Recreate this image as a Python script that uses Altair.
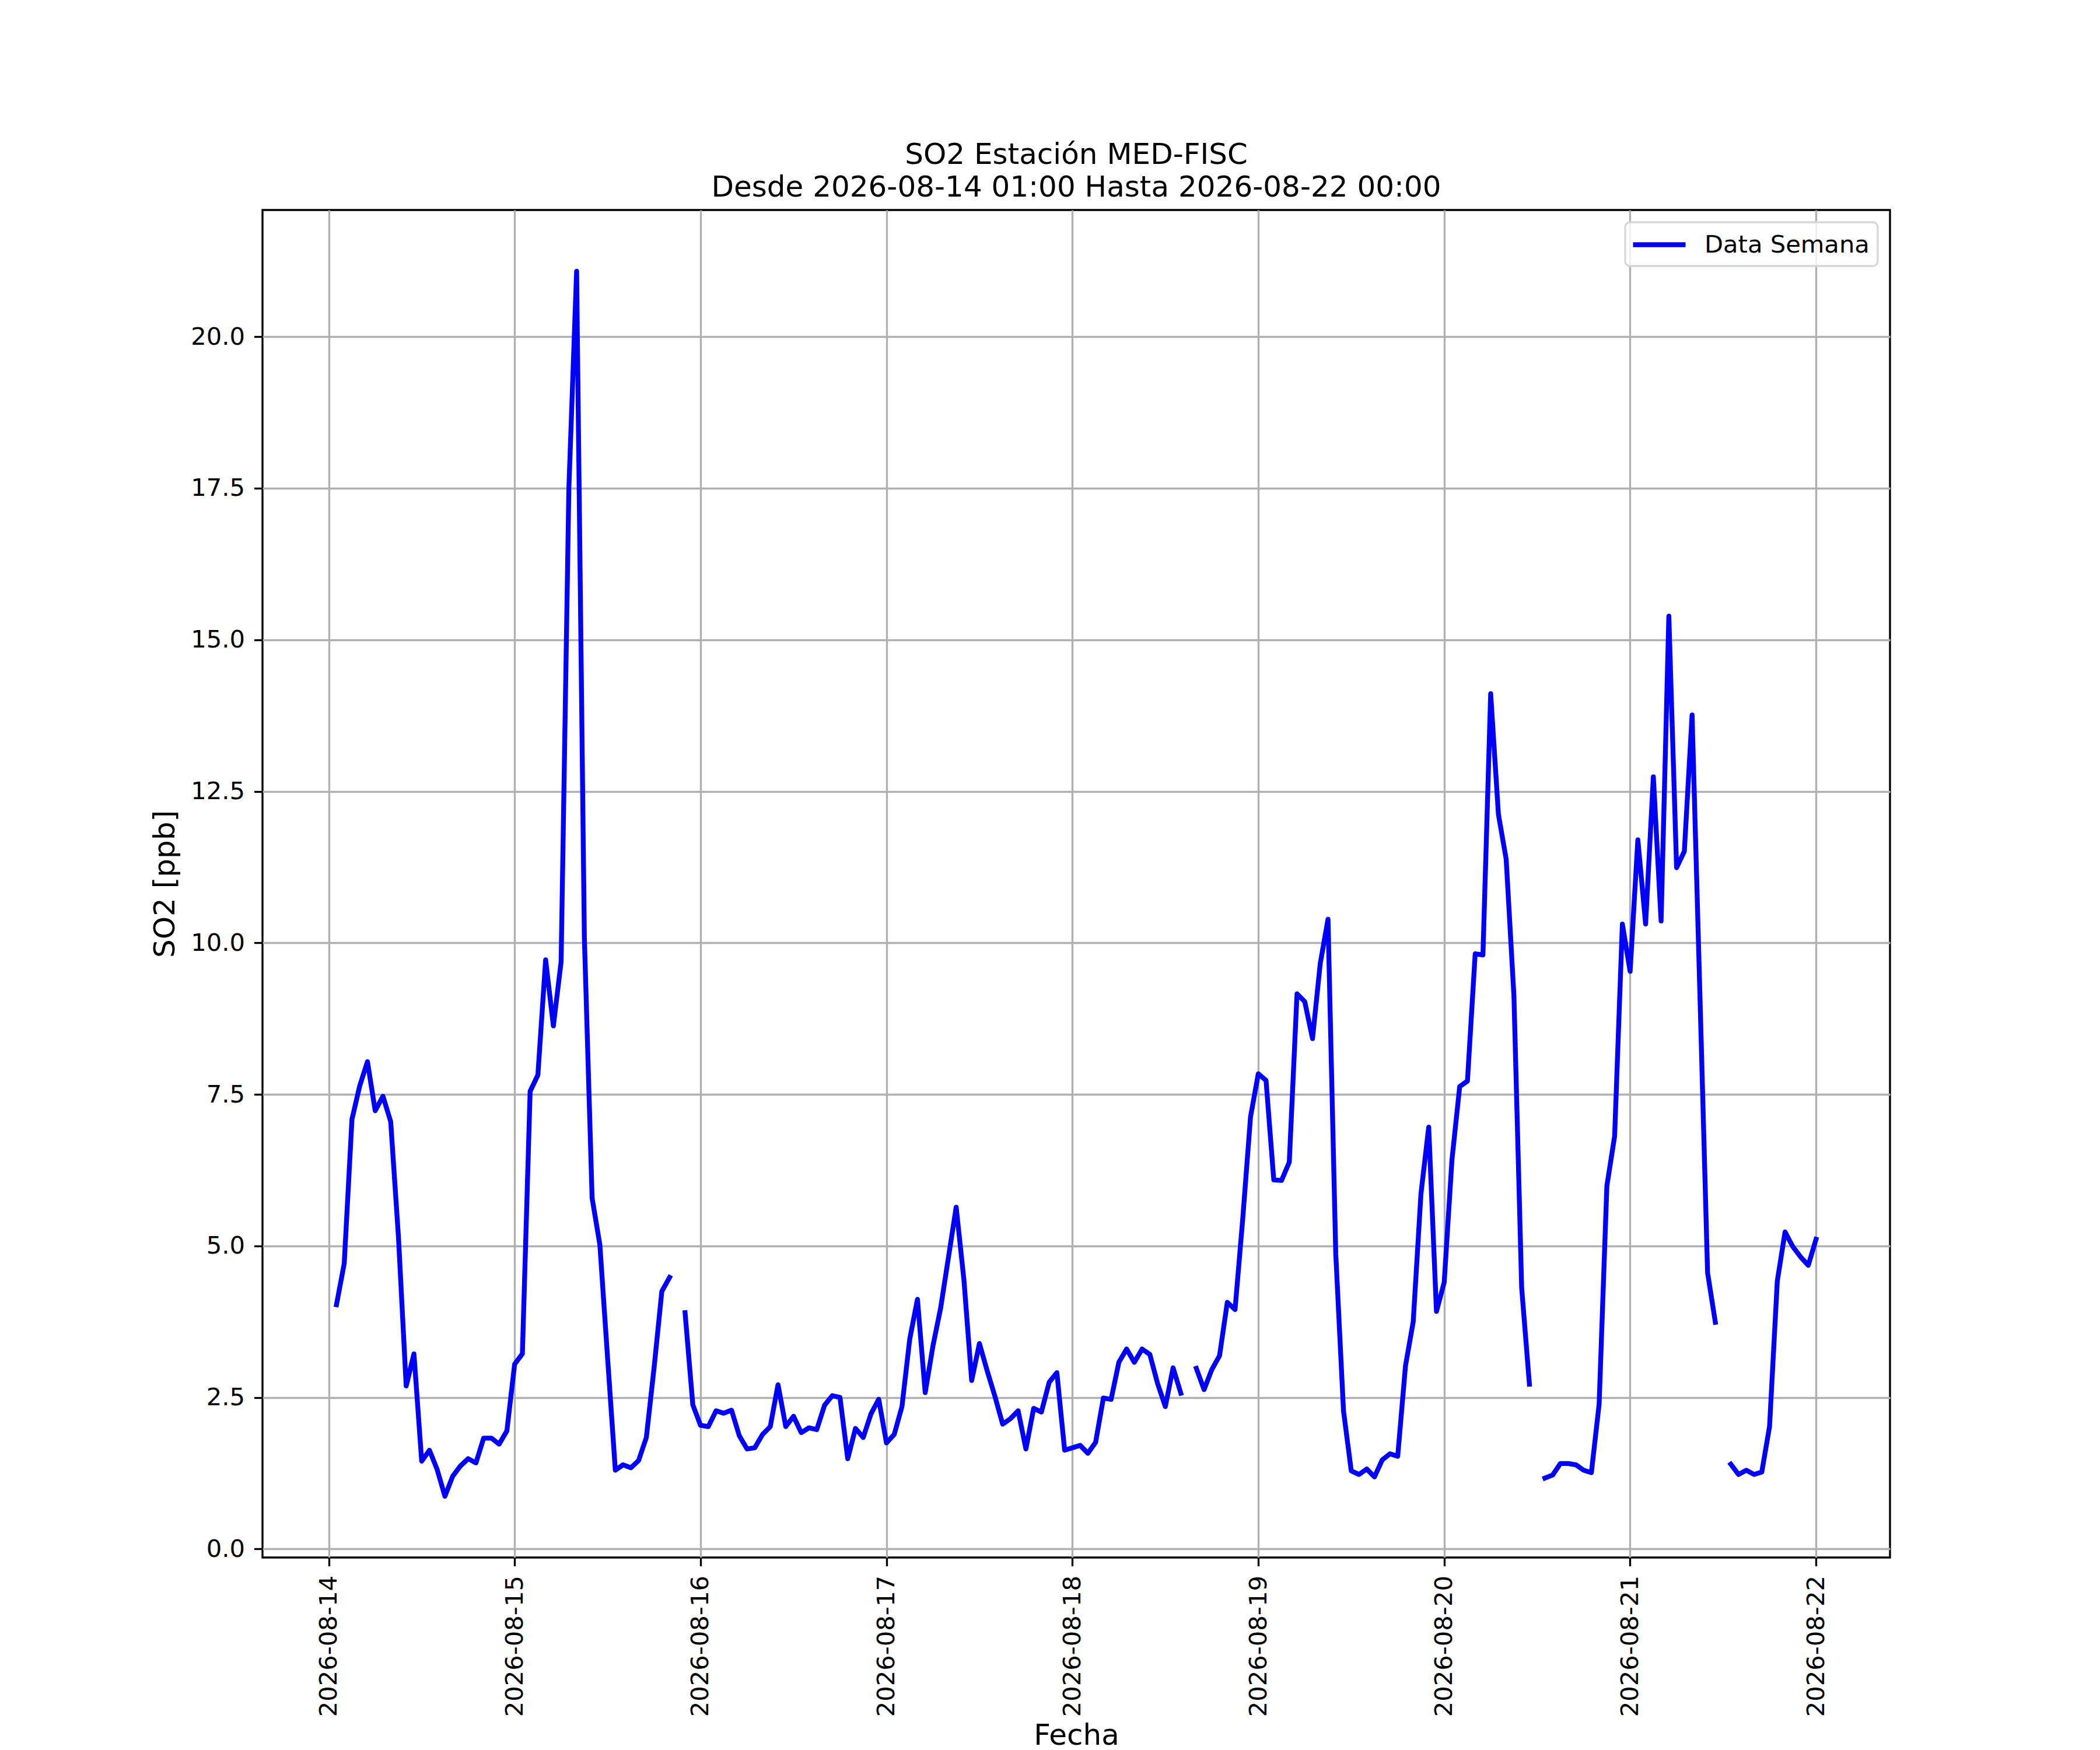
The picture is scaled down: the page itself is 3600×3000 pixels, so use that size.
import altair as alt
import pandas as pd

# Hourly SO2 values (ppb), each list = hours 01:00 .. 24:00 (next day 00:00)
d14 = [4.03, 4.71, 7.09, 7.64, 8.04, 7.23, 7.47, 7.05, 5.15, 2.69, 3.22, 1.45,
       1.63, 1.31, 0.87, 1.20, 1.37, 1.49, 1.42, 1.83, 1.83, 1.73, 1.95, 3.05]
d15 = [3.22, 7.55, 7.82, 9.72, 8.63, 9.69, 17.5, 21.08, 10.09, 5.79, 5.02, 3.15,
       1.30, 1.39, 1.34, 1.46, 1.84, 2.99, 4.25, 4.48, None, 3.90, 2.38, 2.04]
d16 = [2.02, 2.28, 2.24, 2.29, 1.87, 1.65, 1.67, 1.89, 2.02, 2.71, 2.02, 2.19,
       1.92, 2.00, 1.97, 2.37, 2.53, 2.50, 1.49, 1.99, 1.84, 2.23, 2.47, 1.75]
d17 = [1.89, 2.35, 3.46, 4.12, 2.58, 3.35, 3.98, 4.81, 5.64, 4.44, 2.78, 3.39,
       2.94, 2.52, 2.06, 2.15, 2.28, 1.65, 2.32, 2.26, 2.75, 2.91, 1.63, 1.67]
d18 = [1.71, 1.58, 1.76, 2.49, 2.47, 3.08, 3.30, 3.08, 3.30, 3.21, 2.73, 2.35,
       2.99, 2.57, None, 2.98, 2.63, 2.96, 3.19, 4.07, 3.95, 5.46, 7.13, 7.84]
d19 = [7.73, 6.09, 6.08, 6.38, 9.16, 9.03, 8.42, 9.66, 10.39, 4.87, 2.28, 1.29,
       1.23, 1.32, 1.19, 1.47, 1.57, 1.53, 3.02, 3.75, 5.86, 6.96, 3.92, 4.40]
d20 = [6.42, 7.63, 7.72, 9.82, 9.80, 14.11, 12.12, 11.38, 9.13, 4.31, 2.72, None,
       1.17, 1.22, 1.41, 1.41, 1.39, 1.30, 1.26, 2.39, 5.99, 6.81, 10.31, 9.53]
d21 = [11.70, 10.31, 12.74, 10.36, 15.39, 11.24, 11.51, 13.76, 9.2, 4.56, 3.74, None,
       1.40, 1.23, 1.30, 1.23, 1.27, 2.02, 4.42, 5.23, 4.99, 4.82, 4.68, 5.11]

start = "2026-08-14 01:00"
day_ticks = [14, 15, 16, 17, 18, 19, 20, 21, 22]
y_ticks = [0, 2.5, 5, 7.5, 10, 12.5, 15, 17.5, 20]
serie_name = "Data Semana"
title_lines = ["SO2 Estación MED-FISC", "Desde 2026-08-14 01:00 Hasta 2026-08-22 00:00"]

values = d14 + d15 + d16 + d17 + d18 + d19 + d20 + d21
times = pd.date_range(start, periods=len(values), freq="h")

rows = []
seg = 0
for t, v in zip(times, values):
    if v is None:
        seg += 1
        continue
    rows.append({"fecha": t.strftime("%Y-%m-%dT%H:%M:%S"), "so2": v,
                 "seg": seg, "serie": serie_name})
df = pd.DataFrame(rows)

FONT = "DejaVu Sans"

x_axis = alt.Axis(
    values=[alt.DateTime(year=2026, month=8, date=d) for d in day_ticks],
    format="%Y-%m-%d", labelAngle=270, title="Fecha",
    labelOverlap=False, labelFlush=False, labelLimit=2000,
    titleBaseline="alphabetic", titleY=320,
)
y_axis = alt.Axis(values=y_ticks, format=".1f", title="SO2 [ppb]",
                  labelOverlap=False, labelFlush=False, labelLimit=2000)

chart = alt.Chart(df).mark_line(
    strokeWidth=8.33, strokeJoin="round", strokeCap="square"
).encode(
    x=alt.X("fecha:T", axis=x_axis,
            scale=alt.Scale(domain=[alt.DateTime(year=2026, month=8, date=13, hours=15, minutes=27),
                                    alt.DateTime(year=2026, month=8, date=22, hours=9, minutes=33)],
                            nice=False)),
    y=alt.Y("so2:Q", axis=y_axis,
            scale=alt.Scale(domain=[-0.14, 22.09], nice=False, zero=False)),
    color=alt.Color("serie:N",
                    scale=alt.Scale(domain=[serie_name], range=["#0000ff"]),
                    legend=alt.Legend(title=None, orient="top-right", labelLimit=2000)),
    detail="seg:N",
).properties(
    width=2790, height=2310,
    autosize=alt.AutoSizeParams(type="none"),
    padding={"left": 442, "top": 352, "right": 352, "bottom": 336},
    title=alt.TitleParams(text=title_lines, fontSize=50, font=FONT, fontWeight="normal",
                          anchor="middle", frame="group", baseline="bottom",
                          offset=14, dy=51, lineHeight=56, color="black"),
).configure_view(
    stroke="black", strokeWidth=3.33
).configure_axis(
    domain=False, grid=True, gridColor="#b0b0b0", gridWidth=3.33,
    labelFont=FONT, labelFontSize=41.67, labelColor="black",
    tickColor="black", tickWidth=3.33, tickSize=14.6,
    titleFont=FONT, titleFontSize=50, titleFontWeight="normal", titleColor="black",
).configure_axisX(
    labelPadding=16
).configure_axisY(
    labelPadding=16, titlePadding=18
).configure_legend(
    labelFont=FONT, labelFontSize=41.67, labelColor="black",
    symbolType="M-2.25,0H2.25", symbolSize=1600, symbolStrokeWidth=8.33,
    symbolOffset=20, labelOffset=53, padding=14, cornerRadius=8,
    fillColor="rgba(255,255,255,0.8)", strokeColor="#d6d6d6", strokeWidth=3.33,
    offset=21,
)

chart.save("out.html", embed_options={"renderer": "svg", "actions": False})
